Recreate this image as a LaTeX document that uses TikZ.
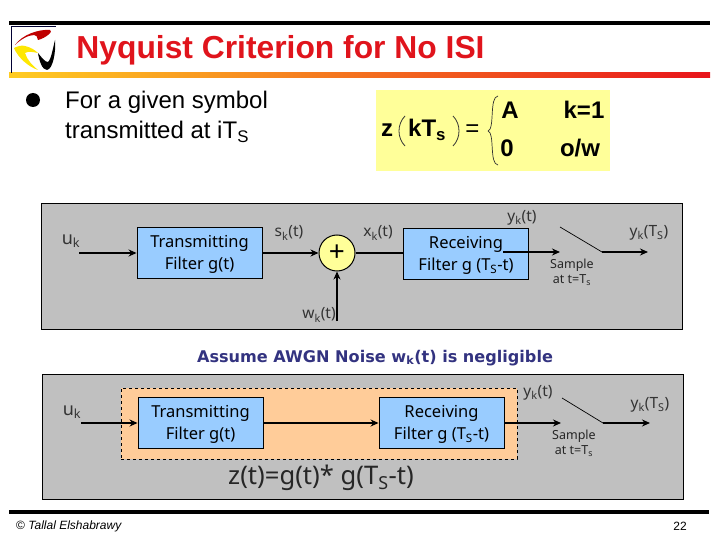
\documentclass[tikz,border=0pt]{standalone}
\usepackage{fontspec}
\usepackage{tikz}
\setmainfont{Liberation Sans}
\newfontfamily\boxfont{Noto Sans}
\newfontfamily\headfont{DejaVu Sans}
\usetikzlibrary{shapes.geometric, arrows.meta, positioning, fit}
\definecolor{panelgray}{HTML}{C0C0C0}
\definecolor{filterblue}{HTML}{99CCFF}
\definecolor{noteyellow}{HTML}{FFFF99}
\definecolor{matchorange}{HTML}{FFCC99}
\definecolor{titlered}{HTML}{E0141C}
\definecolor{notenavy}{HTML}{333380}
\definecolor{barleft}{HTML}{FFCC22}
\definecolor{barmid}{HTML}{F7941D}
\definecolor{barright}{HTML}{E8141C}
\newcommand{\fs}[1]{\fontsize{#1}{1.2\dimexpr #1pt\relax}\selectfont}
\tikzstyle{panel}   = [rectangle, draw=black, line width=1pt, fill=panelgray, inner sep=0pt]
\tikzstyle{filter}  = [rectangle, draw=black, line width=0.9pt, fill=filterblue, inner sep=0pt, text centered, align=center, font=\boxfont\fs{16.5}, text depth=0pt, minimum width=125pt, minimum height=51pt]
\tikzstyle{adder}   = [circle, draw=black, line width=1pt, fill=noteyellow, minimum size=36pt, inner sep=0pt, font=\boxfont\fs{28}]
\tikzstyle{signal}  = [inner sep=0pt, font=\boxfont\fs{15.5}, text=black!80]
\tikzstyle{sample}  = [inner sep=0pt, align=center, font=\boxfont\fs{12.5}, text=black!85]
\tikzstyle{sym}     = [inner sep=0pt, font=\bfseries\fs{24}, anchor=base]
\tikzstyle{arrow}   = [line width=2pt,-{Stealth[length=8pt,width=7pt]}]
\tikzstyle{wire}    = [line width=2pt]
\begin{document}
\begin{tikzpicture}[x=1pt,y=-1pt]
    \useasboundingbox (0,0) rectangle (720,540);
    % slide frame
    \fill [black] (9,21) rectangle (710,25);
    \fill [black] (9,510) rectangle (709,514);
    \shade [left color=barleft, middle color=barmid, right color=barright] (9,73) rectangle (710,78);
    \draw [line width=0.6pt, black!80!blue] (11.5,73) -- (11.5,26.5) -- (55.5,26.5);
    % logo
    \fill [red!75!black] (15,45) .. controls (22,35) and (38,29) .. (50,30) .. controls (54,31) and (46,38) .. (38,40) .. controls (38,37) and (36,35) .. (34,35) .. controls (28,35) and (20,40) .. (15,45);
    \fill [yellow!90!orange] (14,48) .. controls (18,46) and (22,45) .. (25,46) .. controls (30,47) and (35,50) .. (38,53) .. controls (33,52) and (28,51) .. (25,53) .. controls (27,60) and (33,66) .. (38,70) .. controls (29,67) and (18,58) .. (14,48);
    \fill [black] (38,53) .. controls (39,60) and (42,70) .. (47,70) .. controls (53,69) and (56,52) .. (55,40) .. controls (53,48) and (51,60) .. (48,62) .. controls (45,62) and (42,58) .. (38,53);
    % heading
    \node (title)  at (280.5,50.5) [inner sep=0pt, text=titlered, font=\bfseries\fs{31.8}] {Nyquist Criterion for No ISI};
    \node (dot)    at (33,100)     [circle, fill=black, minimum size=14pt, inner sep=0pt] {};
    \node (intro)  at (65,115)     [anchor=west, inner sep=0pt, align=left, font=\fs{24}, text depth=0pt] {For a given symbol\\[1.5pt]transmitted at iT\textsubscript{S}};
    % formula
    \node (note)   at (493,130.5)  [rectangle, fill=noteyellow, minimum width=234pt, minimum height=81pt, inner sep=0pt] {};
    \node (zk)     at (381,137)    [sym, anchor=base west] {z};
    \node (kts)    at (408,137)    [sym, anchor=base west] {kT\textsubscript{s}};
    \node (eqs)    at (472.5,131)  [inner sep=0pt, font=\fs{24}] {=};
    \node (aval)   at (510,119)    [sym] {A};
    \node (kone)   at (584,119)    [sym] {k=1};
    \node (zero)   at (507,157)    [sym] {0};
    \node (owval)  at (580,157)    [sym] {o/w};
    \draw [line width=0.8pt, black!80] (405,116) .. controls (397,124) and (397,138) .. (405,146);
    \draw [line width=0.8pt, black!80] (453,116) .. controls (461,124) and (461,138) .. (453,146);
    \draw [line width=0.7pt, black!80] (498,96) .. controls (489,97) and (495,129) .. (488,131) .. controls (495,133) and (489,164) .. (498,165);
    % upper panel
    \node (pnlup)  at (361.5,266.5) [panel, minimum width=641pt, minimum height=125pt] {};
    \node (txup)   at (199.5,252.5) [filter] {Transmitting\\[2pt]Filter g(t)};
    \node (sum)    at (337,253)     [adder] {+};
    \node (rxup)   at (466,253.5)   [filter] {Receiving\\[2pt]Filter g (T\textsubscript{S}-t)};
    \node (ukup)   at (71,241)      [signal, font=\boxfont\fs{18}] {u\textsubscript{k}};
    \node (skup)   at (289,233)     [signal] {s\textsubscript{k}(t)};
    \node (xkup)   at (378,233)     [signal] {x\textsubscript{k}(t)};
    \node (ykup)   at (522,218)     [signal] {y\textsubscript{k}(t)};
    \node (ysup)   at (649,233)     [signal] {y\textsubscript{k}(T\textsubscript{S})};
    \node (wkup)   at (319,315)     [signal] {w\textsubscript{k}(t)};
    \node (smpup)  at (572,272)     [sample] {Sample\\at t=T\textsubscript{s}};
    \coordinate (inup)  at (79,253);
    \coordinate (wup)   at (337,321);
    \coordinate (rxout) at (503,252);
    \coordinate (swa)   at (560,252);
    \coordinate (swtop) at (560,227);
    \coordinate (swb)   at (602,252);
    \coordinate (outup) at (648,252);

    \draw [arrow] (inup) -- (txup.west |- inup);
    \draw [arrow] (txup.east |- sum) -- (sum);
    \draw [arrow] (wup) -- (sum);
    \draw [wire]  (sum) -- (rxup.west |- sum);
    \draw [arrow] (rxout) -- (swa);
    \draw [line width=0.7pt] (swtop) -- (swb);
    \draw [arrow] (swb) -- (outup);
    % note between panels
    \node (awgn)   at (375,358)    [inner sep=0pt, text=notenavy, font=\headfont\bfseries\fs{16.1}] {Assume AWGN Noise w\textsubscript{k}(t) is negligible};
    % lower panel
    \node (pnllow) at (362.5,436.5) [panel, minimum width=641pt, minimum height=125pt] {};
    \node (match)  at (319,423.5)  [rectangle, draw=black, dashed, line width=0.7pt, fill=matchorange, minimum width=396pt, minimum height=71pt, inner sep=0pt] {};
    \node (txlow)  at (200.5,422.5) [filter] {Transmitting\\[2pt]Filter g(t)};
    \node (rxlow)  at (441.5,422.5) [filter] {Receiving\\[2pt]Filter g (T\textsubscript{S}-t)};
    \node (uklow)  at (72,412)     [signal, font=\boxfont\fs{18}] {u\textsubscript{k}};
    \node (yklow)  at (538,393)    [signal] {y\textsubscript{k}(t)};
    \node (yslow)  at (650,405)    [signal] {y\textsubscript{k}(T\textsubscript{S})};
    \node (smplow) at (574,443)    [sample] {Sample\\at t=T\textsubscript{s}};
    \node (zeq)    at (321,478)    [inner sep=0pt, font=\boxfont\fs{25.6}, text=black!85] {z(t)=g(t)* g(T\textsubscript{S}-t)};
    \coordinate (inlow)  at (81,423);
    \coordinate (swc)    at (561,423);
    \coordinate (swtopl) at (562,398);
    \coordinate (swd)    at (603,423);
    \coordinate (outlow) at (650,423);

    \draw [arrow] (inlow) -- (txlow.west |- inlow);
    \draw [arrow] (txlow.east |- inlow) -- (rxlow.west |- inlow);
    \draw [arrow] (rxlow.east |- inlow) -- (swc);
    \draw [line width=0.7pt] (swtopl) -- (swd);
    \draw [arrow] (swd) -- (outlow);
    % footer
    \node (author) at (16,526)     [anchor=west, inner sep=0pt, font=\fs{12}] {© \textit{Tallal Elshabrawy}};
    \node (page)   at (680,526)    [inner sep=0pt, font=\fs{12}] {22};
\end{tikzpicture}
\end{document}
